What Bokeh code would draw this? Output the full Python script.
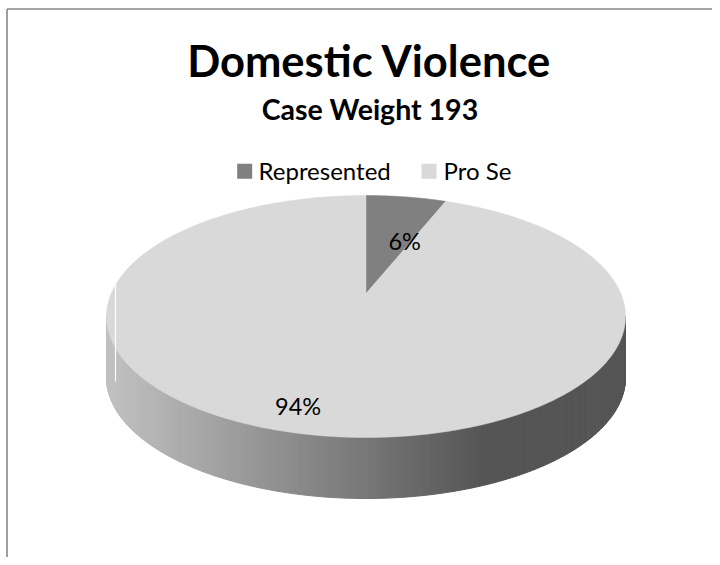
import numpy as np
from bokeh.plotting import figure
from bokeh.models import Range1d, Label
from bokeh.embed import file_html
from bokeh.resources import INLINE

# ---------------- data ----------------
title_text = "Domestic Violence"
subtitle_text = "Case Weight 193"
categories = ["Represented", "Pro Se"]
percents = [6, 94]
slice_colors = ["#808080", "#d9d9d9"]

# ---------------- layout (pixels) ----------------
W, H = 712, 557
CX = 365.5                 # pie centre x
TOP, BOT = 195.0, 437.0    # top face vertical extent
HALF_W = 259.5             # top face half width
K = -0.19                  # perspective factor
DEPTH = 61.0               # pie thickness
FONT = "Lato"

p = figure(width=W, height=H, output_backend="svg", toolbar_location=None,
           x_range=Range1d(0, W), y_range=Range1d(H, 0),
           x_axis_location=None, y_axis_location=None, min_border=0,
           background_fill_color="white", border_fill_color="white")
p.grid.visible = False
p.outline_line_color = None

Ytop = -1.0 / (1.0 - K)
Ybot = 1.0 / (1.0 + K)
SY = (BOT - TOP) / (Ybot - Ytop)
SX = HALF_W * np.sqrt(1 - K * K)


def proj(theta, r=1.0, dz=0.0):
    u = r * np.sin(theta)
    v = -r * np.cos(theta)
    w = 1.0 + K * v
    X = u / w
    Y = v / w
    return CX + X * SX, TOP + (Y - Ytop) * SY + dz


def side_gray(x):
    x0, x1 = 112.0, 482.0
    c0, c1 = 0xC0, 0x55
    t = np.clip((x - x0) / (x1 - x0), 0, 1)
    c = int(round(c0 + (c1 - c0) * t))
    return "#%02x%02x%02x" % (c, c, c)


# slice angles (clockwise from the back)
fr = np.array(percents, dtype=float) / sum(percents)
ends = np.cumsum(fr) * 2 * np.pi
starts = np.concatenate([[0.0], ends[:-1]])

thR = np.arccos(K)
thL = 2 * np.pi - thR

# ---- side walls (gradient strips) ----
xs_side, ys_side, cols = [], [], []
for s, e in zip(starts, ends):
    a, b = max(s, thR), min(e, thL)
    if b <= a:
        continue
    th = np.linspace(a, b, 240)
    for i in range(len(th) - 1):
        x1, y1 = proj(th[i])
        x2, y2 = proj(th[i + 1])
        x3, y3 = proj(th[i + 1], dz=DEPTH)
        x4, y4 = proj(th[i], dz=DEPTH)
        xs_side.append([x1, x2, x3, x4])
        ys_side.append([y1, y2, y3, y4])
        cols.append(side_gray((x1 + x2) / 2))
p.patches(xs_side, ys_side, fill_color=cols, line_color=cols, line_width=1)

# ---- top face wedges ----
cx0, cy0 = proj(0.0, r=0.0)
wx, wy = [], []
for s, e in zip(starts, ends):
    th = np.linspace(s, e, max(int((e - s) * 80), 8))
    ax, ay = proj(th)
    wx.append([cx0] + list(ax))
    wy.append([cy0] + list(ay))
p.patches(wx, wy, fill_color=slice_colors, line_color=slice_colors, line_width=0.5)

# thin highlight line on the left rim
lx_, ly_ = proj(thL)
p.segment(x0=[lx_ + 9], y0=[ly_ - 33], x1=[lx_ + 9], y1=[ly_ + DEPTH + 4],
          line_color="white", line_width=1.2)

# ---- data labels ----
label_r = [0.52, 0.83]
label_dx = [16, -21]
label_dy = [2, 0]
for i, (s, e) in enumerate(zip(starts, ends)):
    mid = (s + e) / 2
    lx, ly = proj(mid, r=label_r[i])
    p.add_layout(Label(x=lx + label_dx[i], y=ly + label_dy[i], text="%d%%" % percents[i],
                       text_font=FONT, text_font_size="23.5px", text_color="#000000",
                       text_align="center", text_baseline="middle"))

# ---- titles ----
p.add_layout(Label(x=369, y=59, text=title_text, text_font=FONT,
                   text_font_style="bold", text_font_size="43.5px", text_color="#000000",
                   text_align="center", text_baseline="middle"))
p.add_layout(Label(x=369.5, y=108.5, text=subtitle_text, text_font=FONT,
                   text_font_style="bold", text_font_size="28.5px", text_color="#000000",
                   text_align="center", text_baseline="middle"))

# ---- legend ----
sq_x = [244.2, 428.5]
txt_x = [258, 443]
p.rect(x=sq_x, y=[170.8] * 2, width=15, height=15,
       fill_color=slice_colors, line_color=None)
for i, c in enumerate(categories):
    p.add_layout(Label(x=txt_x[i], y=169.7, text=c, text_font=FONT,
                       text_font_size="24px", text_color="#000000",
                       text_align="left", text_baseline="middle"))

# ---- chart border (left / top visible) ----
p.segment(x0=[6.5, 6.5], y0=[8.5, 8.5], x1=[6.5, W], y1=[H, 8.5],
          line_color="#878787", line_width=1.6)

open("out.html", "w").write(file_html(p, INLINE))
